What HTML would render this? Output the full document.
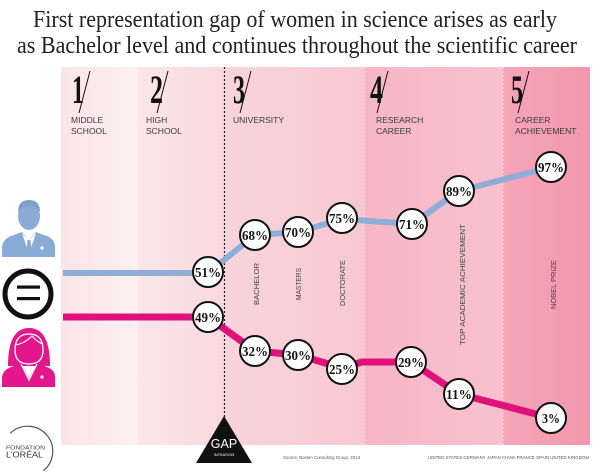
<!DOCTYPE html>
<html><head><meta charset="utf-8"><style>
html,body{margin:0;padding:0;background:#fff;}
svg{display:block;}
</style></head><body>
<svg width="600" height="472" viewBox="0 0 600 472" xmlns="http://www.w3.org/2000/svg">
<defs>
<linearGradient id="g1" x1="0" x2="1" y1="0" y2="0"><stop offset="0" stop-color="#fbe4e9"/><stop offset="1" stop-color="#fdf0f2"/></linearGradient>
<linearGradient id="g2" x1="0" x2="1" y1="0" y2="0"><stop offset="0" stop-color="#fbe6ea"/><stop offset="1" stop-color="#f8d8df"/></linearGradient>
<linearGradient id="g3" x1="0" x2="1" y1="0" y2="0"><stop offset="0" stop-color="#f9d4dc"/><stop offset="1" stop-color="#f7c8d2"/></linearGradient>
<linearGradient id="g4" x1="0" x2="1" y1="0" y2="0"><stop offset="0" stop-color="#f6b6c5"/><stop offset="1" stop-color="#f8c1ce"/></linearGradient>
<linearGradient id="g5" x1="0" x2="1" y1="0" y2="0"><stop offset="0" stop-color="#f5a6b8"/><stop offset="1" stop-color="#f297ac"/></linearGradient>
</defs>

<!-- Title -->
<text x="33" y="27" font-family="Liberation Serif, serif" font-size="24" fill="#222" textLength="524" lengthAdjust="spacingAndGlyphs">First representation gap of women in science arises as early</text>
<text x="17" y="53" font-family="Liberation Serif, serif" font-size="24" fill="#222" textLength="560" lengthAdjust="spacingAndGlyphs">as Bachelor level and continues throughout the scientific career</text>

<!-- Columns -->
<rect x="61" y="67" width="77" height="378" fill="url(#g1)"/>
<rect x="138" y="67" width="87" height="378" fill="url(#g2)"/>
<rect x="225" y="67" width="139" height="378" fill="url(#g3)"/>
<rect x="364" y="67" width="139" height="378" fill="url(#g4)"/>
<rect x="503" y="67" width="87" height="378" fill="url(#g5)"/>
<line x1="364.5" y1="67" x2="364.5" y2="445" stroke="#fbdde4" stroke-width="1" stroke-dasharray="2,2"/>
<line x1="503.5" y1="67" x2="503.5" y2="445" stroke="#f9cbd6" stroke-width="1" stroke-dasharray="2,2"/>

<!-- Header numbers -->
<g font-family="Liberation Serif, serif" font-weight="bold" font-size="40" fill="#111">
<text x="72" y="103" textLength="12" lengthAdjust="spacingAndGlyphs">1</text>
<text x="150" y="103" textLength="13" lengthAdjust="spacingAndGlyphs">2</text>
<text x="233" y="103" textLength="12" lengthAdjust="spacingAndGlyphs">3</text>
<text x="370" y="103" textLength="13" lengthAdjust="spacingAndGlyphs">4</text>
<text x="511" y="103" textLength="12" lengthAdjust="spacingAndGlyphs">5</text>
</g>
<g stroke="#111" stroke-width="1">
<line x1="90" y1="71" x2="79" y2="113"/>
<line x1="168" y1="71" x2="157" y2="113"/>
<line x1="251" y1="71" x2="240" y2="113"/>
<line x1="388" y1="71" x2="377" y2="113"/>
<line x1="529" y1="71" x2="518" y2="113"/>
</g>
<g font-family="Liberation Sans, sans-serif" font-size="8.5" fill="#3a3a3a">
<text x="71" y="123">MIDDLE</text><text x="71" y="134">SCHOOL</text>
<text x="146" y="123">HIGH</text><text x="146" y="134">SCHOOL</text>
<text x="233" y="123">UNIVERSITY</text>
<text x="376" y="123">RESEARCH</text><text x="376" y="134">CAREER</text>
<text x="515" y="123">CAREER</text><text x="515" y="134">ACHIEVEMENT</text>
</g>

<!-- Vertical labels -->
<g font-family="Liberation Sans, sans-serif" font-size="7" fill="#444">
<text transform="translate(259,305) rotate(-90)" textLength="42" lengthAdjust="spacingAndGlyphs">BACHELOR</text>
<text transform="translate(301,300) rotate(-90)" textLength="32" lengthAdjust="spacingAndGlyphs">MASTERS</text>
<text transform="translate(345,306) rotate(-90)" textLength="46" lengthAdjust="spacingAndGlyphs">DOCTORATE</text>
<text transform="translate(465,345) rotate(-90)" textLength="121" lengthAdjust="spacingAndGlyphs">TOP ACADEMIC ACHIEVEMENT</text>
<text transform="translate(556,309) rotate(-90)" textLength="49" lengthAdjust="spacingAndGlyphs">NOBEL PRIZE</text>
</g>

<!-- Gap dotted line & triangle -->
<line x1="224.5" y1="67" x2="224.5" y2="418" stroke="#222" stroke-width="1.2" stroke-dasharray="2,2"/>
<polygon points="224,416 252,463 196,463" fill="#111"/>
<text x="224" y="448" text-anchor="middle" font-family="Liberation Sans, sans-serif" font-size="12.5" fill="#fff">GAP</text>
<text x="224" y="456" text-anchor="middle" font-family="Liberation Sans, sans-serif" font-size="4" fill="#fff">INITIATION</text>

<!-- Lines -->
<polyline points="63,273 208,273 255,235 298,232 342,219 412,224 459,191 551,167" fill="none" stroke="#8eaed6" stroke-width="6" stroke-linejoin="round"/>
<polyline points="63,317 208,317 255,351 298,355 342,368 362,362 411,362 459,394 551,418" fill="none" stroke="#e0117a" stroke-width="7" stroke-linejoin="round"/>

<!-- Circles -->
<g fill="#fff" stroke="#111" stroke-width="2">
<circle cx="208" cy="272" r="15"/>
<circle cx="255" cy="235" r="15"/>
<circle cx="298" cy="232" r="15"/>
<circle cx="342" cy="218" r="15"/>
<circle cx="412" cy="224" r="15"/>
<circle cx="459" cy="191" r="15"/>
<circle cx="551" cy="167" r="15"/>
<circle cx="208" cy="317" r="15"/>
<circle cx="255" cy="351" r="15"/>
<circle cx="298" cy="355" r="15"/>
<circle cx="342" cy="369" r="15"/>
<circle cx="411" cy="362" r="15"/>
<circle cx="459" cy="394" r="15"/>
<circle cx="551" cy="418" r="15"/>
</g>
<g font-family="Liberation Serif, serif" font-weight="bold" font-size="14" fill="#111" text-anchor="middle">
<text x="208" y="277" textLength="26" lengthAdjust="spacingAndGlyphs">51%</text>
<text x="255" y="240" textLength="26" lengthAdjust="spacingAndGlyphs">68%</text>
<text x="298" y="237" textLength="26" lengthAdjust="spacingAndGlyphs">70%</text>
<text x="342" y="223" textLength="26" lengthAdjust="spacingAndGlyphs">75%</text>
<text x="412" y="229" textLength="26" lengthAdjust="spacingAndGlyphs">71%</text>
<text x="459" y="196" textLength="26" lengthAdjust="spacingAndGlyphs">89%</text>
<text x="551" y="172" textLength="26" lengthAdjust="spacingAndGlyphs">97%</text>
<text x="208" y="322" textLength="26" lengthAdjust="spacingAndGlyphs">49%</text>
<text x="255" y="356" textLength="26" lengthAdjust="spacingAndGlyphs">32%</text>
<text x="298" y="360" textLength="26" lengthAdjust="spacingAndGlyphs">30%</text>
<text x="342" y="374" textLength="26" lengthAdjust="spacingAndGlyphs">25%</text>
<text x="411" y="367" textLength="26" lengthAdjust="spacingAndGlyphs">29%</text>
<text x="459" y="399" textLength="26" lengthAdjust="spacingAndGlyphs">11%</text>
<text x="551" y="423" textLength="18" lengthAdjust="spacingAndGlyphs">3%</text>
</g>

<!-- Man icon -->
<g>
<ellipse cx="29" cy="216" rx="11" ry="14" fill="#8aabd6"/>
<path d="M18,212 Q18,200 29,200 Q40,200 40,212 Q36,205 29,206 Q22,205 18,212 Z" fill="#7d9fcc"/>
<path d="M2,257 L2,247 Q3,238 14,235 L22,232 L29,240 L36,232 L44,235 Q55,238 55,247 L55,257 Z" fill="#8aabd6"/>
<path d="M22,233 L29,254 L36,233 L29,240 Z" fill="#fff"/>
<path d="M27.5,240 L30.5,240 L31.5,251 L29,255 L26.5,251 Z" fill="#8aabd6"/>
<circle cx="42" cy="248" r="1.6" fill="#fff"/>
</g>

<!-- Equal icon -->
<circle cx="28" cy="294" r="23" fill="none" stroke="#111" stroke-width="5"/>
<rect x="17" y="285.5" width="23" height="3.2" fill="#111"/>
<rect x="17" y="297" width="23" height="3.2" fill="#111"/>

<!-- Woman icon -->
<g>
<path d="M8,366 Q8,328 29,328 Q50,328 50,366 Z" fill="#e3168b"/>
<path d="M15,350 Q15,334 29,334 Q43,334 43,350 Q43,364 29,364 Q15,364 15,350 Z" fill="#e3168b" stroke="#fff" stroke-width="1.3"/>
<path d="M15,345 Q24,344 32,336 Q37,342 43,344" fill="none" stroke="#fff" stroke-width="1.2"/>
<path d="M2,387 L2,377 Q3,369 14,366 L21,363 L29,378 L37,363 L44,366 Q55,369 55,377 L55,387 Z" fill="#e3168b"/>
<path d="M21,364 L29,380 L37,364" fill="none" stroke="#fff" stroke-width="1.3"/>
<circle cx="42" cy="377" r="1.6" fill="#fff"/>
</g>

<!-- Logo -->
<path d="M10.3,433.3 A25,25 0 1,1 43.4,470.7" fill="none" stroke="#555" stroke-width="1.2"/>
<text x="6" y="449.5" font-family="Liberation Sans, sans-serif" font-size="5.5" fill="#444" textLength="39" lengthAdjust="spacingAndGlyphs">FONDATION</text>
<text x="6" y="457.5" font-family="Liberation Sans, sans-serif" font-size="8.5" fill="#333" textLength="37" lengthAdjust="spacingAndGlyphs">L'ORÉAL</text>

<!-- Footer -->
<text x="283" y="459" font-family="Liberation Sans, sans-serif" font-size="4.5" fill="#555" textLength="77" lengthAdjust="spacingAndGlyphs">Source: Boston Consulting Group, 2013</text>
<text x="428" y="459" font-family="Liberation Sans, sans-serif" font-size="4.5" fill="#555" textLength="161" lengthAdjust="spacingAndGlyphs">UNITED STATES   GERMANY   JAPAN   CHINA   FRANCE   SPAIN   UNITED KINGDOM</text>
</svg>
</body></html>
